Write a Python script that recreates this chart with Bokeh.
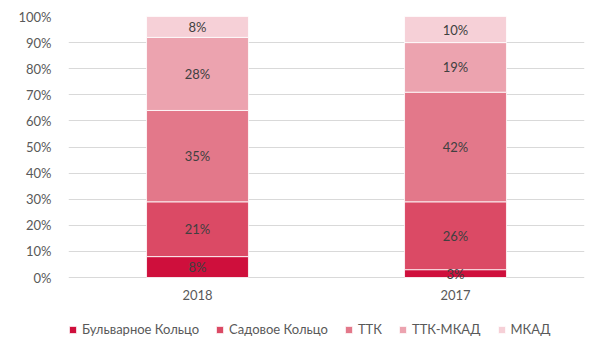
from bokeh.plotting import figure
from bokeh.models import ColumnDataSource, Legend, LegendItem, PrintfTickFormatter, FixedTicker, Range1d
from bokeh.core.properties import value
from bokeh.embed import file_html
from bokeh.resources import INLINE

years = ["2018", "2017"]
series = ["Бульварное Кольцо", "Садовое Кольцо", "ТТК", "ТТК-МКАД", "МКАД"]
bulvar = [8, 3]
sadovoe = [21, 26]
ttk = [35, 42]
ttk_mkad = [28, 19]
mkad = [8, 10]
colors = ["#CF0F3C", "#DB4A65", "#E3788A", "#ECA3AF", "#F6D0D7"]
y_ticks = list(range(0, 101, 10))

values = [bulvar, sadovoe, ttk, ttk_mkad, mkad]
keys = ["s0", "s1", "s2", "s3", "s4"]
data = {"years": years}
for k, v in zip(keys, values):
    data[k] = v
src = ColumnDataSource(data)

FONT = "Lato"
# frame extends below 0 to leave room for category labels and legend
p = figure(x_range=years, y_range=Range1d(-28.35, 100), width=600, height=351,
           output_backend="svg", toolbar_location=None,
           min_border_left=68, min_border_right=16, min_border_top=16, min_border_bottom=0)
p.outline_line_color = None
p.xaxis.visible = False

rs = p.vbar_stack(keys, x="years", width=0.395, color=colors, source=src,
                  line_color="white", line_width=0.8)

# value labels
lx, ly, lt = [], [], []
for i, y in enumerate(years):
    cum = 0
    for v in values:
        val = v[i]
        lx.append(y)
        ly.append(cum + val / 2)
        lt.append(f"{val}%")
        cum += val
p.text(x=lx, y=ly, text=lt, text_align="center", text_baseline="middle",
       text_font=value(FONT), text_font_size="13px", text_color="#404040")

# category labels under the baseline
p.text(x=years, y=[0] * len(years), text=years, text_align="center", text_baseline="top",
       y_offset=12, text_font=value(FONT), text_font_size="13px", text_color="#595959")

p.yaxis.ticker = FixedTicker(ticks=y_ticks)
p.yaxis.formatter = PrintfTickFormatter(format="%d%%")
p.yaxis.axis_line_color = None
p.yaxis.major_tick_line_color = None
p.yaxis.minor_tick_line_color = None
p.yaxis.major_label_text_font = FONT
p.yaxis.major_label_text_font_size = "13px"
p.yaxis.major_label_text_color = "#595959"
p.yaxis.major_label_standoff = 11

p.xgrid.grid_line_color = None
p.ygrid.grid_line_color = "#D9D9D9"
p.x_range.range_padding = 0

items = [LegendItem(label=s, renderers=[r]) for s, r in zip(series, rs)]
legend = Legend(items=items, orientation="horizontal", location=(0, 14),
                label_text_font=FONT, label_text_font_size="13px",
                label_text_color="#595959", glyph_width=9, glyph_height=9,
                label_standoff=5, spacing=16, border_line_color=None,
                background_fill_alpha=0, padding=0, margin=0)
p.add_layout(legend, "center")

open("out.html", "w").write(file_html(p, INLINE))
